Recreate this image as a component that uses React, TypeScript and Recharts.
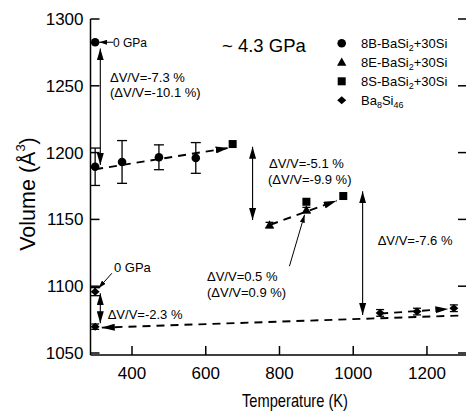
import { ScatterChart, Scatter, XAxis, YAxis, ErrorBar, ReferenceLine } from "recharts";

const FONT = "'Liberation Sans', Arial, Helvetica, sans-serif";

const xTicks = [400, 600, 800, 1000, 1200];
const yTicks = [1050, 1100, 1150, 1200, 1250, 1300];
const xDomain = [287.4, 1308.6];
const yDomain = [1048.5, 1300];

// 8B-BaSi2+30Si (circles)
const temp8B = [300, 373, 473, 573];
const vol8B = [1189.4, 1193, 1196.5, 1196];
const err8B = [14, 16, 9.3, 11.5];
const temp8B0 = [300];
const vol8B0 = [1282.6];

// 8E-BaSi2+30Si (triangles)
const temp8E = [773, 873];
const vol8E = [1145.8, 1157];
const err8E = [2, 2];

// 8S-BaSi2+30Si (squares)
const temp8S = [673, 873, 973];
const vol8S = [1206.4, 1163.2, 1167.5];

// Ba8Si46 (diamonds)
const tempBa = [300, 1073, 1173, 1273];
const volBa = [1069.7, 1080, 1081, 1083.5];
const errBa = [2, 2.5, 2.5, 2.5];
const tempBa0 = [300];
const volBa0 = [1095.9];
const errBa0 = [3];

// annotation arrows, [x1, y1, x2, y2] in data units
const dashedArrows = [
  [300, 1187.5, 662, 1203.5],
  [775, 1146, 955, 1164],
  [1073, 1079.5, 1258, 1083],
  [1285, 1078, 318, 1069],
];
const doubleArrows = [
  [314, 1278, 314, 1190.7],
  [727, 1204.4, 727, 1149.5],
  [1025.5, 1171, 1025.5, 1078.4],
  [314, 1094.7, 314, 1072.2],
];
const pointerArrows = [
  [349, 1282.6, 311, 1282.6],
  [345.5, 1109.7, 309, 1098.5],
  [827, 1115, 868, 1153.5],
];

const legendNames = [
  ["8B-BaSi", "2", "+30Si"],
  ["8E-BaSi", "2", "+30Si"],
  ["8S-BaSi", "2", "+30Si"],
  ["Ba", "8", "Si", "46"],
];

const pts = (xs: number[], ys: number[], es?: number[]) =>
  xs.map((x, i) => ({ x, y: ys[i], err: es ? es[i] : 0 }));

const Circle = (p: any) => <circle cx={p.cx} cy={p.cy} r={4.3} fill="#000" />;
const Square = (p: any) => <rect x={p.cx - 4} y={p.cy - 4} width={8} height={8} fill="#000" />;
const Triangle = (p: any) => (
  <path d={`M${p.cx},${p.cy - 4.7}L${p.cx + 4.7},${p.cy + 3.5}L${p.cx - 4.7},${p.cy + 3.5}Z`} fill="#000" />
);
const Diamond = (p: any) => (
  <path d={`M${p.cx},${p.cy - 4}L${p.cx + 4.5},${p.cy}L${p.cx},${p.cy + 4}L${p.cx - 4.5},${p.cy}Z`} fill="#000" />
);
const shapes = [Circle, Triangle, Square, Diamond];

const TL = 9;
const BottomTick = (p: any) => (
  <g>
    <line x1={p.x} x2={p.x} y1={p.y - 12} y2={p.y - 12 - TL} stroke="#000" strokeWidth={1.5} />
    <text x={p.x} y={p.y} dy="0.71em" textAnchor="middle" fontSize={17} fontFamily={FONT} fill="#000">
      {p.payload.value}
    </text>
  </g>
);
const LeftTick = (p: any) => (
  <g>
    <line x1={p.x + 7} x2={p.x + 7 + TL} y1={p.y} y2={p.y} stroke="#000" strokeWidth={1.5} />
    <text x={p.x} y={p.y} dy="0.355em" textAnchor="end" fontSize={17} fontFamily={FONT} fill="#000">
      {p.payload.value}
    </text>
  </g>
);
const TopTick = (p: any) => (
  <line x1={p.x} x2={p.x} y1={p.y} y2={p.y + TL} stroke="#000" strokeWidth={1.5} />
);
const RightTick = (p: any) => (
  <line x1={p.x} x2={p.x - TL} y1={p.y} y2={p.y} stroke="#000" strokeWidth={1.5} />
);

const arrowLine = (marker: string, width: number, dash?: string, start?: string) => (p: any) => (
  <line
    x1={p.x1}
    y1={p.y1}
    x2={p.x2}
    y2={p.y2}
    stroke="#000"
    strokeWidth={width}
    strokeDasharray={dash}
    markerEnd={`url(#${marker})`}
    markerStart={start ? `url(#${start})` : undefined}
  />
);

const axisLine = { stroke: "#000", strokeWidth: 1.5 };

const Note = ({ x, y, children, size = 13 }: any) => (
  <text x={x} y={y} fontSize={size} fontFamily={FONT} fill="#000">
    {children}
  </text>
);

export default function App() {
  return (
    <div style={{ position: "absolute", left: 0, top: 0, width: 466, height: 412, overflow: "hidden", background: "#fff" }}>
      <div style={{ position: "absolute", left: 0, top: 0 }}>
        <ScatterChart width={470} height={412} margin={{ top: 19, right: 0, bottom: 0, left: 0 }}>
          <XAxis
            type="number"
            dataKey="x"
            domain={xDomain}
            ticks={xTicks}
            allowDataOverflow
            height={57}
            tickSize={0}
            tickMargin={12}
            tickLine={false}
            axisLine={axisLine}
            tick={BottomTick}
          />
          <XAxis
            xAxisId="top"
            orientation="top"
            type="number"
            dataKey="x"
            domain={xDomain}
            ticks={xTicks}
            allowDataOverflow
            height={0}
            tickSize={0}
            tickMargin={0}
            tickLine={false}
            axisLine={axisLine}
            tick={TopTick}
          />
          <YAxis
            type="number"
            dataKey="y"
            domain={yDomain}
            ticks={yTicks}
            allowDataOverflow
            width={90.5}
            tickSize={0}
            tickMargin={7}
            tickLine={false}
            axisLine={axisLine}
            tick={LeftTick}
          />
          <YAxis
            yAxisId="right"
            orientation="right"
            type="number"
            dataKey="y"
            domain={yDomain}
            ticks={yTicks}
            allowDataOverflow
            width={3}
            tickSize={0}
            tickMargin={0}
            tickLine={false}
            axisLine={axisLine}
            tick={RightTick}
          />
          {dashedArrows.map((a, i) => (
            <ReferenceLine
              key={"d" + i}
              segment={[{ x: a[0], y: a[1] }, { x: a[2], y: a[3] }]}
              ifOverflow="visible"
              shape={arrowLine("headBig", 1.9, "8 6")}
            />
          ))}
          {doubleArrows.map((a, i) => (
            <ReferenceLine
              key={"v" + i}
              segment={[{ x: a[0], y: a[1] }, { x: a[2], y: a[3] }]}
              ifOverflow="visible"
              shape={arrowLine("headMid", 1.1, undefined, "headMidS")}
            />
          ))}
          {pointerArrows.map((a, i) => (
            <ReferenceLine
              key={"p" + i}
              segment={[{ x: a[0], y: a[1] }, { x: a[2], y: a[3] }]}
              ifOverflow="visible"
              shape={arrowLine("headSmall", 1)}
            />
          ))}
          <Scatter name="8B-BaSi2+30Si" data={pts(temp8B, vol8B, err8B)} shape={shapes[0]} isAnimationActive={false}>
            <ErrorBar dataKey="err" direction="y" width={5} stroke="#000" strokeWidth={1.3} />
          </Scatter>
          <Scatter name="8B 0 GPa" data={pts(temp8B0, vol8B0)} shape={shapes[0]} isAnimationActive={false} />
          <Scatter name="8E-BaSi2+30Si" data={pts(temp8E, vol8E, err8E)} shape={shapes[1]} isAnimationActive={false}>
            <ErrorBar dataKey="err" direction="y" width={4} stroke="#000" strokeWidth={1.3} />
          </Scatter>
          <Scatter name="8S-BaSi2+30Si" data={pts(temp8S, vol8S)} shape={shapes[2]} isAnimationActive={false} />
          <Scatter name="Ba8Si46" data={pts(tempBa, volBa, errBa)} shape={shapes[3]} isAnimationActive={false}>
            <ErrorBar dataKey="err" direction="y" width={4} stroke="#000" strokeWidth={1.3} />
          </Scatter>
          <Scatter name="Ba8Si46 0 GPa" data={pts(tempBa0, volBa0, errBa0)} shape={shapes[3]} isAnimationActive={false}>
            <ErrorBar dataKey="err" direction="y" width={5} stroke="#000" strokeWidth={1.3} />
          </Scatter>
        </ScatterChart>
      </div>
      <svg width={466} height={412} style={{ position: "absolute", left: 0, top: 0, pointerEvents: "none" }}>
        <defs>
          <marker id="headBig" viewBox="0 0 13 7" refX={13} refY={3.5} markerWidth={13} markerHeight={7} markerUnits="userSpaceOnUse" orient="auto">
            <path d="M0,0L13,3.5L0,7Z" fill="#000" />
          </marker>
          <marker id="headMid" viewBox="0 0 12 7" refX={12} refY={3.5} markerWidth={12} markerHeight={7} markerUnits="userSpaceOnUse" orient="auto">
            <path d="M0,0L12,3.5L0,7Z" fill="#000" />
          </marker>
          <marker id="headMidS" viewBox="0 0 12 7" refX={0} refY={3.5} markerWidth={12} markerHeight={7} markerUnits="userSpaceOnUse" orient="auto">
            <path d="M12,0L0,3.5L12,7Z" fill="#000" />
          </marker>
          <marker id="headSmall" viewBox="0 0 8 5" refX={8} refY={2.5} markerWidth={8} markerHeight={5} markerUnits="userSpaceOnUse" orient="auto">
            <path d="M0,0L8,2.5L0,5Z" fill="#000" />
          </marker>
        </defs>

        <Note x={113} y={46.5} size={12}>0 GPa</Note>
        <Note x={110} y={81.7}>ΔV/V=-7.3 %</Note>
        <Note x={110} y={96.8}>(ΔV/V=-10.1 %)</Note>
        <Note x={222} y={51.7} size={18.5}>~ 4.3 GPa</Note>
        <Note x={269} y={168.3}>ΔV/V=-5.1 %</Note>
        <Note x={268} y={184}>(ΔV/V=-9.9 %)</Note>
        <Note x={377.7} y={245}>ΔV/V=-7.6 %</Note>
        <Note x={207} y={281}>ΔV/V=0.5 %</Note>
        <Note x={207} y={296.5}>(ΔV/V=0.9 %)</Note>
        <Note x={114} y={271.7}>0 GPa</Note>
        <Note x={107.7} y={319}>ΔV/V=-2.3 %</Note>

        {legendNames.map((parts, i) => {
          const Shape = shapes[i];
          const cy = 43.3 + i * 19;
          return (
            <g key={i}>
              <Shape cx={341.7} cy={cy} />
              <text x={361} y={cy + 4.6} fontSize={13} fontFamily={FONT} fill="#000">
                {parts.map((t, j) =>
                  j % 2 === 1 ? (
                    <tspan key={j} fontSize={9} dy={3}>{t}</tspan>
                  ) : (
                    <tspan key={j} dy={j === 0 ? 0 : -3}>{t}</tspan>
                  )
                )}
              </text>
            </g>
          );
        })}

        <text
          x={295}
          y={407}
          textAnchor="middle"
          fontSize={19}
          fontFamily={FONT}
          fill="#000"
          textLength={106}
          lengthAdjust="spacingAndGlyphs"
        >
          Temperature (K)
        </text>
        <text
          transform="translate(35,194) rotate(-90)"
          textAnchor="middle"
          fontSize={21.5}
          fontFamily={FONT}
          fill="#000"
        >
          Volume (Å<tspan fontSize={13} dy={-10}>3</tspan>
          <tspan dy={10}>)</tspan>
        </text>
      </svg>
    </div>
  );
}
